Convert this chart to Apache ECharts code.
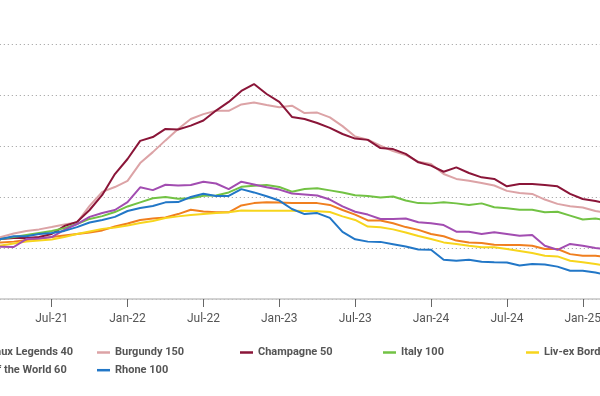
<!DOCTYPE html>
<html>
<head>
<meta charset="utf-8">
<script src="https://cdn.jsdelivr.net/npm/echarts@6/dist/echarts.min.js"></script>
<style>html,body{margin:0;padding:0;background:#fff}#c{width:600px;height:396px}</style>
</head>
<body>
<div id="c"></div>
<script>
var months = ["Jan-21","Feb-21","Mar-21","Apr-21","May-21","Jun-21","Jul-21","Aug-21","Sep-21","Oct-21","Nov-21","Dec-21",
"Jan-22","Feb-22","Mar-22","Apr-22","May-22","Jun-22","Jul-22","Aug-22","Sep-22","Oct-22","Nov-22","Dec-22",
"Jan-23","Feb-23","Mar-23","Apr-23","May-23","Jun-23","Jul-23","Aug-23","Sep-23","Oct-23","Nov-23","Dec-23",
"Jan-24","Feb-24","Mar-24","Apr-24","May-24","Jun-24","Jul-24","Aug-24","Sep-24","Oct-24","Nov-24","Dec-24",
"Jan-25","Feb-25","Mar-25"];

var bordeauxLegends40 = [100.8,101.6,102.2,102.5,103.1,103.7,104.3,104.9,105.5,106.1,106.9,108.4,109.6,111.0,111.6,112.0,113.3,115.0,114.3,114.0,114.0,116.7,117.6,117.9,117.8,117.6,117.6,117.6,116.9,114.9,113.1,110.8,110.8,109.7,108.2,107.1,105.5,104.6,102.9,102.2,102.0,101.3,101.2,101.2,100.9,99.6,99.6,97.6,97.0,97.0,96.3];
var burgundy150 = [101.2,102.7,104.3,105.7,106.7,107.3,108.2,109.2,110.0,116.5,122.0,123.9,126.3,133.3,137.6,142.2,146.7,150.6,152.5,153.8,153.8,156.3,157.1,156.1,155.2,155.8,152.9,153.1,151.2,147.8,143.7,142.5,140.1,138.0,136.5,133.8,132.9,129.0,127.1,126.4,125.5,124.5,122.4,121.6,121.2,119.0,117.3,116.4,115.9,114.5,113.7];
var champagne50 = [100.8,102.0,103.5,103.9,103.9,104.3,105.5,108.6,110.2,114.9,120.8,129.0,134.9,142.0,143.5,146.7,146.5,148.0,150.0,153.9,157.3,161.6,164.3,160.4,157.3,151.4,150.6,149.0,147.1,144.7,142.9,142.4,139.2,138.8,136.9,133.6,132.3,129.9,131.6,129.4,127.7,127.1,124.2,125.1,125.1,124.7,124.2,121.2,119.2,118.4,117.3];
var italy100 = [100.0,101.6,103.5,104.3,105.1,105.9,106.7,107.8,109.4,111.4,112.5,114.1,116.3,117.9,119.5,120.0,119.3,119.5,120.5,120.6,121.8,124.0,124.4,124.7,123.9,122.1,123.1,123.4,122.6,121.8,120.7,120.4,119.8,120.2,118.6,117.6,117.5,117.9,117.5,116.9,117.5,116.0,115.6,115.0,115.0,114.0,114.2,112.7,111.2,111.6,110.8];
var livexBordeaux500 = [100.0,100.4,101.0,101.8,102.5,102.9,103.3,104.3,105.5,106.5,107.5,108.0,108.8,109.8,110.6,111.8,112.4,112.9,113.3,113.7,114.0,114.7,114.6,114.6,114.6,114.6,114.5,114.4,114.1,112.4,111.0,108.4,108.1,107.3,106.1,104.7,103.5,102.2,101.6,100.9,100.3,100.3,99.6,98.8,98.0,97.0,96.7,95.0,94.4,93.7,92.9];
var restOfWorld60 = [100.0,100.2,100.5,100.4,103.5,103.7,104.3,107.1,109.4,112.2,113.7,114.9,118.0,123.8,122.7,124.8,124.5,124.7,126.0,125.3,123.1,126.0,124.9,123.8,122.9,121.4,121.0,120.6,119.0,116.3,114.2,113.1,111.4,111.4,111.6,110.1,109.7,109.0,106.4,106.4,105.5,106.2,105.5,104.8,105.1,100.9,99.3,101.6,100.9,100.0,99.4];
var rhone100 = [101.2,102.4,103.5,104.6,104.6,105.5,105.9,106.7,108.2,110.0,111.0,112.2,114.5,115.7,116.5,117.9,118.0,120.0,121.3,120.4,120.4,123.1,121.8,120.3,118.6,115.3,113.3,113.7,111.8,106.3,103.4,102.5,102.4,101.5,100.6,99.4,99.3,95.4,95.0,95.4,94.6,94.4,94.3,93.1,93.7,93.5,92.7,91.1,91.1,90.4,89.4];

var seriesNames = ["Bordeaux Legends 40","Burgundy 150","Champagne 50","Italy 100","Liv-ex Bordeaux 500","Rest of the World 60","Rhone 100"];
var seriesData = [bordeauxLegends40, burgundy150, champagne50, italy100, livexBordeaux500, restOfWorld60, rhone100];
var colors = ["#f07f1f","#dca3a6","#8a1538","#72c244","#f7d51d","#a24db1","#2277c7"];

var chart = echarts.init(document.getElementById('c'), null, {renderer:'canvas'});
var legendText = {color:'#555', fontSize:11, fontFamily:'Roboto', fontWeight:'bold', lineHeight:13};
function mkLegend(left, names){
  return {left:left, top:346, orient:'vertical', itemGap:4.7, itemWidth:13, itemHeight:2.5, icon:'rect',
    padding:0, textStyle:legendText, data:names, selectedMode:false};
}
chart.setOption({
  animation:false,
  color:colors,
  textStyle:{fontFamily:'Roboto'},
  grid:{left:-24.2, right:-8.05, top:44, bottom:97, containLabel:false, outerBoundsMode:'none'},
  legend:[
    mkLegend(-52, [seriesNames[0], seriesNames[5]]),
    mkLegend(97, [seriesNames[1], seriesNames[6]]),
    mkLegend(240, [seriesNames[2]]),
    mkLegend(383, [seriesNames[3]]),
    mkLegend(526, [seriesNames[4]])
  ],
  xAxis:{type:'category', data:months, boundaryGap:false,
    axisLine:{lineStyle:{color:'#c4c4c4', width:1.5}},
    axisTick:{length:8, lineStyle:{color:'#666'}, interval:function(i){return i%6===0;}},
    axisLabel:{color:'#555', fontSize:12, margin:14, interval:function(i){return i%6===0;}},
    splitLine:{show:false}},
  yAxis:{type:'value', min:80, max:180, interval:20,
    axisLabel:{show:false}, axisLine:{show:false}, axisTick:{show:false},
    splitLine:{lineStyle:{color:'#9a9a9a', type:[1,3], width:1}}},
  series:seriesNames.map(function(n,k){
    return {name:n, type:'line', data:seriesData[k], showSymbol:false, symbol:'none',
      lineStyle:{width:2, color:colors[k]}, itemStyle:{color:colors[k]}, z:2+k};
  })
});
</script>
</body>
</html>
